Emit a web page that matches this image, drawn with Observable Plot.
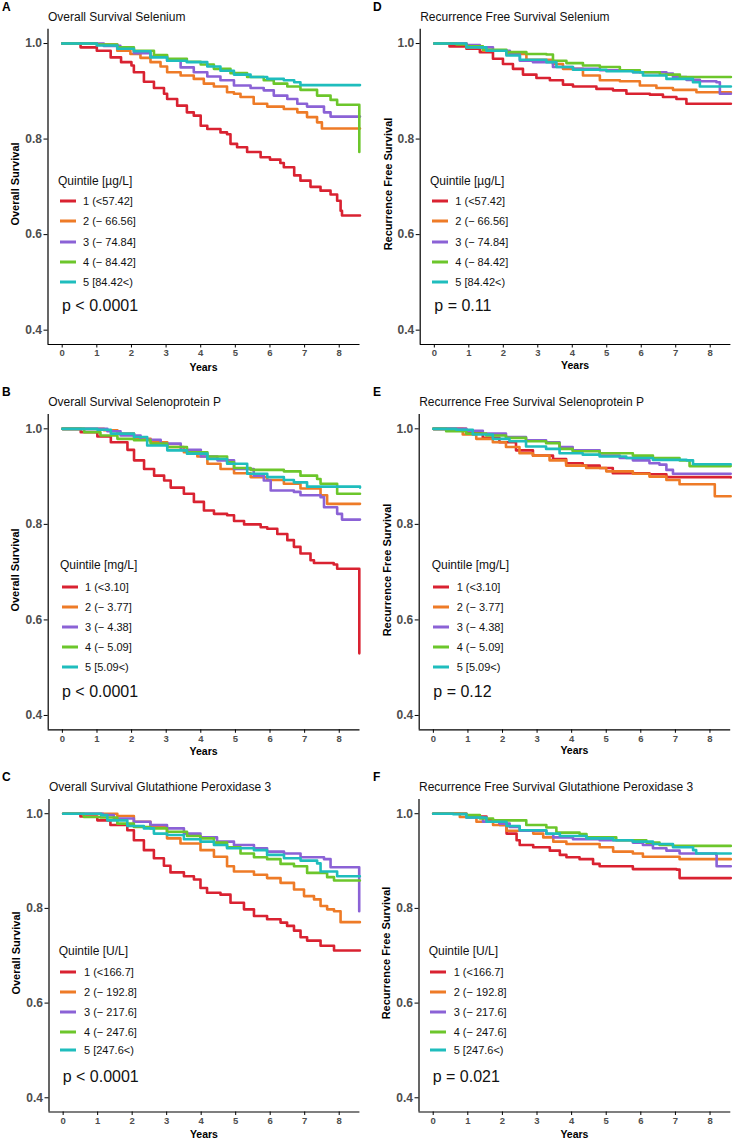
<!DOCTYPE html>
<html><head><meta charset="utf-8">
<script src="https://cdn.jsdelivr.net/npm/d3@7"></script>
<script src="https://cdn.jsdelivr.net/npm/@observablehq/plot@0.6"></script>
<style>
body{margin:0;background:#fff;font-family:"Liberation Sans",Arial,sans-serif;}
#root{position:relative;width:733px;height:1139px;overflow:hidden;background:#fff;}
.abs{position:absolute;transform:translateY(-50%);line-height:1;white-space:nowrap;color:#111;}
.letter{font-weight:bold;font-size:12px;color:#000;}
.title{font-size:12px;}
.ltitle{font-size:12px;}
.lentry{font-size:11px;}
.pval{font-size:16px;}
.ytitle{position:absolute;transform:translate(-50%,-50%) rotate(-90deg);font-weight:bold;font-size:11px;white-space:nowrap;line-height:1;color:#000;}
.years{position:absolute;transform:translate(-50%,-50%);font-weight:bold;font-size:10.5px;white-space:nowrap;line-height:1;color:#000;}
.sw{position:absolute;height:3px;width:16px;transform:translateY(-50%);}
</style></head><body><div id="root"></div>
<script>
// ---------- scales / ticks ----------
const xDomain = [-0.41, 8.6];
const yDomain = [0.37, 1.03];
const xTicks = [0, 1, 2, 3, 4, 5, 6, 7, 8];
const yTicks = [0.4, 0.6, 0.8, 1.0];
const quintiles = ["1", "2", "3", "4", "5"];
const colors = ["#D92231", "#EE7B27", "#8B62D6", "#6CC62B", "#1FBDBD"];

// ---------- legend labels ----------
const seUnit = "Quintile [µg/L]";
const seLabels = ["1 (<57.42]", "2 (− 66.56]", "3 (− 74.84]", "4 (− 84.42]", "5 [84.42<)"];
const seppUnit = "Quintile [mg/L]";
const seppLabels = ["1 (<3.10]", "2 (− 3.77]", "3 (− 4.38]", "4 (− 5.09]", "5 [5.09<)"];
const gpxUnit = "Quintile [U/L]";
const gpxLabels = ["1 (<166.7]", "2 (− 192.8]", "3 (− 217.6]", "4 (− 247.6]", "5 [247.6<)"];

// ---------- A: Overall survival, Selenium ----------
const osSe1 = [[0,1],[0.53,0.992],[1.0,0.985],[1.4,0.971],[1.7,0.961],[2.0,0.954],[2.07,0.94],[2.36,0.92],[2.65,0.907],[2.94,0.895],[3.03,0.884],[3.32,0.87],[3.6,0.856],[3.8,0.849],[4.0,0.828],[4.19,0.821],[4.57,0.814],[4.76,0.81],[4.86,0.79],[5.05,0.783],[5.34,0.773],[5.73,0.762],[6.0,0.757],[6.3,0.75],[6.4,0.741],[6.7,0.724],[6.88,0.713],[7.17,0.70],[7.46,0.692],[7.75,0.684],[7.94,0.671],[8.04,0.65],[8.08,0.64],[8.6,0.64]];
const osSe2 = [[0,1],[1.0,0.998],[1.59,0.985],[1.97,0.978],[2.26,0.97],[2.55,0.961],[2.84,0.952],[3.03,0.94],[3.42,0.933],[3.8,0.926],[4.09,0.916],[4.38,0.91],[4.76,0.898],[4.96,0.895],[5.15,0.888],[5.53,0.874],[5.92,0.868],[6.4,0.863],[6.79,0.856],[7.07,0.846],[7.36,0.835],[7.5,0.822],[8.6,0.822]];
const osSe3 = [[0,1],[1.2,0.995],[1.68,0.989],[2.07,0.98],[2.55,0.973],[3.03,0.964],[3.42,0.95],[3.8,0.94],[4.19,0.931],[4.57,0.923],[4.96,0.912],[5.44,0.907],[5.82,0.902],[6.11,0.891],[6.5,0.884],[6.79,0.874],[7.07,0.868],[7.56,0.856],[7.75,0.847],[8.6,0.847]];
const osSe4 = [[0,1],[1.0,0.998],[1.59,0.992],[2.07,0.985],[2.65,0.976],[3.03,0.968],[3.6,0.962],[4.0,0.956],[4.38,0.947],[4.86,0.938],[5.34,0.93],[5.82,0.923],[6.11,0.916],[6.5,0.91],[6.88,0.903],[7.36,0.891],[7.75,0.882],[7.94,0.872],[8.57,0.872],[8.58,0.773]];
const osSe5 = [[0,1],[1.0,0.996],[1.59,0.989],[2.07,0.984],[2.55,0.971],[3.03,0.964],[3.6,0.961],[4.19,0.952],[4.57,0.943],[4.96,0.935],[5.44,0.93],[5.92,0.926],[6.4,0.923],[6.7,0.919],[6.88,0.913],[8.6,0.913]];

// ---------- D: Recurrence free survival, Selenium ----------
const rfsSe1 = [[0,1],[0.44,0.994],[0.93,0.989],[1.32,0.982],[1.7,0.968],[1.99,0.957],[2.28,0.947],[2.57,0.935],[2.96,0.928],[3.35,0.923],[3.73,0.914],[4.02,0.91],[4.7,0.905],[5.18,0.902],[5.57,0.895],[6.25,0.893],[6.63,0.888],[7.02,0.884],[7.31,0.874],[8.6,0.874]];
const rfsSe2 = [[0,1],[0.93,0.992],[1.41,0.985],[2.09,0.978],[2.67,0.966],[3.44,0.957],[3.73,0.947],[4.31,0.933],[4.8,0.923],[5.38,0.921],[5.96,0.912],[6.44,0.907],[6.92,0.903],[7.6,0.898],[8.6,0.898]];
const rfsSe3 = [[0,1],[0.93,0.997],[1.32,0.992],[1.7,0.985],[2.19,0.978],[2.48,0.964],[2.86,0.961],[3.44,0.951],[4.02,0.947],[4.8,0.944],[5.76,0.94],[6.73,0.937],[6.92,0.93],[7.31,0.924],[7.7,0.921],[8.18,0.919],[8.28,0.895],[8.6,0.895]];
const rfsSe4 = [[0,1],[0.64,0.998],[0.93,0.994],[1.41,0.987],[2.09,0.982],[2.67,0.978],[3.25,0.977],[3.44,0.964],[3.83,0.959],[4.31,0.954],[4.8,0.951],[5.38,0.944],[5.96,0.94],[6.54,0.935],[7.12,0.93],[8.6,0.93]];
const rfsSe5 = [[0,1],[0.93,0.992],[1.51,0.985],[2.09,0.975],[2.48,0.966],[3.25,0.961],[3.54,0.951],[4.02,0.945],[4.99,0.942],[5.76,0.94],[6.05,0.933],[6.73,0.926],[7.5,0.919],[7.7,0.91],[8.6,0.91]];

// ---------- B: Overall survival, Selenoprotein P ----------
const osSepp1 = [[0,1],[0.53,0.993],[1.01,0.984],[1.4,0.972],[1.88,0.956],[2.07,0.934],[2.36,0.916],[2.65,0.902],[2.94,0.892],[3.13,0.877],[3.51,0.864],[3.8,0.847],[4.09,0.829],[4.38,0.822],[4.76,0.819],[4.96,0.807],[5.25,0.8],[5.73,0.794],[5.92,0.791],[6.21,0.78],[6.5,0.767],[6.69,0.753],[6.88,0.739],[7.17,0.725],[7.27,0.719],[7.84,0.716],[7.94,0.707],[8.57,0.707],[8.58,0.53]];
const osSepp2 = [[0,1],[1.2,0.997],[1.59,0.99],[2.07,0.979],[2.55,0.972],[3.03,0.962],[3.51,0.951],[3.9,0.942],[4.19,0.927],[4.57,0.916],[4.96,0.907],[5.44,0.899],[5.92,0.893],[6.4,0.885],[6.88,0.875],[7.46,0.861],[7.65,0.843],[8.6,0.843]];
const osSepp3 = [[0,1],[1.3,0.995],[1.68,0.986],[2.26,0.977],[2.84,0.969],[3.42,0.956],[4.0,0.942],[4.48,0.934],[4.96,0.916],[5.53,0.902],[5.82,0.892],[6.02,0.871],[6.69,0.868],[6.88,0.861],[7.46,0.857],[7.56,0.836],[7.94,0.822],[8.08,0.81],[8.6,0.81]];
const osSepp4 = [[0,1],[0.63,0.993],[1.1,0.986],[1.59,0.979],[2.07,0.976],[2.55,0.969],[3.03,0.962],[3.6,0.951],[4.19,0.942],[4.76,0.93],[4.96,0.918],[5.44,0.914],[6.4,0.911],[6.88,0.902],[7.36,0.895],[7.46,0.885],[7.94,0.864],[8.6,0.864]];
const osSepp5 = [[0,1],[1.01,0.998],[1.4,0.99],[2.07,0.983],[2.45,0.965],[3.03,0.955],[3.6,0.948],[4.19,0.937],[4.76,0.927],[5.34,0.906],[5.92,0.899],[6.4,0.893],[6.69,0.888],[7.07,0.879],[8.6,0.877]];

// ---------- E: Recurrence free survival, Selenoprotein P ----------
const rfsSepp1 = [[0,1],[0.95,0.991],[1.43,0.981],[1.91,0.972],[2.39,0.955],[2.88,0.944],[3.46,0.937],[3.84,0.928],[4.32,0.923],[4.81,0.918],[5.19,0.907],[6.25,0.905],[6.74,0.899],[8.6,0.898]];
const rfsSepp2 = [[0,1],[0.85,0.988],[1.24,0.979],[1.72,0.972],[2.1,0.962],[2.49,0.949],[2.88,0.944],[3.36,0.934],[3.84,0.923],[4.42,0.918],[5.0,0.911],[5.77,0.906],[6.25,0.9],[6.74,0.893],[7.12,0.884],[8.14,0.859],[8.6,0.859]];
const rfsSepp3 = [[0,1],[0.95,0.996],[1.43,0.99],[2.1,0.983],[2.68,0.976],[3.26,0.972],[3.65,0.962],[4.03,0.955],[4.81,0.944],[5.39,0.939],[5.77,0.934],[6.25,0.928],[6.54,0.925],[6.74,0.914],[6.93,0.906],[8.6,0.906]];
const rfsSepp4 = [[0,1],[0.37,0.995],[0.95,0.99],[1.53,0.986],[2.1,0.981],[2.68,0.974],[3.26,0.97],[3.65,0.958],[4.03,0.953],[4.81,0.949],[5.77,0.944],[6.35,0.939],[7.12,0.934],[7.41,0.922],[8.6,0.922]];
const rfsSepp5 = [[0,1],[0.66,0.998],[1.14,0.988],[1.72,0.979],[2.2,0.974],[2.68,0.963],[3.26,0.958],[3.65,0.949],[4.32,0.946],[4.81,0.942],[5.58,0.939],[6.35,0.935],[7.32,0.934],[7.51,0.926],[8.6,0.926]];

// ---------- C: Overall survival, Glutathione Peroxidase 3 ----------
const osGpx1 = [[0,1],[0.5,0.994],[0.99,0.986],[1.37,0.976],[1.86,0.965],[2.05,0.944],[2.34,0.923],[2.63,0.906],[2.92,0.89],[3.11,0.876],[3.5,0.868],[3.79,0.861],[3.98,0.843],[4.17,0.833],[4.56,0.829],[4.85,0.812],[5.24,0.798],[5.53,0.784],[5.91,0.777],[6.3,0.77],[6.49,0.763],[6.69,0.753],[6.88,0.739],[7.07,0.732],[7.46,0.721],[7.85,0.711],[8.6,0.711]];
const osGpx2 = [[0,1],[1.57,0.995],[2.05,0.983],[2.53,0.972],[3.01,0.948],[3.4,0.937],[3.98,0.923],[4.37,0.909],[4.75,0.889],[4.95,0.878],[5.53,0.871],[5.91,0.864],[6.3,0.854],[6.69,0.84],[6.98,0.826],[7.27,0.819],[7.46,0.805],[7.65,0.798],[7.85,0.794],[8.04,0.771],[8.6,0.771]];
const osGpx3 = [[0,1],[1.15,0.997],[1.47,0.99],[2.05,0.983],[2.53,0.976],[3.01,0.969],[3.5,0.958],[3.98,0.95],[4.46,0.941],[4.95,0.934],[5.53,0.927],[5.91,0.92],[6.4,0.916],[6.88,0.908],[7.56,0.904],[7.75,0.887],[8.57,0.887],[8.58,0.794]];
const osGpx4 = [[0,1],[0.6,0.993],[1.08,0.992],[1.57,0.979],[2.05,0.972],[2.53,0.969],[3.01,0.962],[3.59,0.953],[3.98,0.948],[4.37,0.939],[4.75,0.929],[5.14,0.916],[5.53,0.908],[5.91,0.904],[6.3,0.894],[6.69,0.889],[7.07,0.875],[7.65,0.866],[7.85,0.859],[8.6,0.859]];
const osGpx5 = [[0,1],[1.1,0.997],[1.28,0.986],[1.86,0.974],[2.34,0.969],[2.63,0.958],[3.01,0.955],[3.5,0.946],[3.98,0.941],[4.37,0.934],[4.75,0.927],[5.53,0.923],[5.91,0.913],[6.4,0.906],[6.88,0.901],[7.36,0.895],[7.46,0.878],[7.94,0.868],[8.6,0.868]];

// ---------- F: Recurrence free survival, Glutathione Peroxidase 3 ----------
const rfsGpx1 = [[0,1],[0.96,0.994],[1.54,0.986],[1.92,0.976],[2.12,0.958],[2.41,0.944],[2.5,0.934],[2.89,0.929],[3.37,0.922],[3.66,0.913],[3.85,0.908],[4.23,0.904],[4.62,0.894],[4.81,0.889],[5.77,0.883],[7.03,0.882],[7.12,0.864],[8.6,0.864]];
const rfsGpx2 = [[0,1],[0.77,0.993],[1.25,0.983],[1.73,0.976],[2.12,0.964],[2.89,0.958],[3.18,0.95],[3.47,0.941],[3.85,0.936],[4.81,0.929],[5.2,0.92],[5.77,0.916],[6.06,0.909],[7.12,0.904],[8.6,0.904]];
const rfsGpx3 = [[0,1],[0.96,0.992],[1.44,0.983],[1.92,0.979],[2.21,0.972],[2.5,0.964],[3.27,0.957],[3.47,0.95],[4.04,0.946],[4.81,0.944],[5.77,0.939],[6.06,0.934],[6.35,0.927],[6.74,0.922],[7.12,0.916],[8.18,0.913],[8.19,0.889],[8.6,0.889]];
const rfsGpx4 = [[0,1],[0.96,0.997],[1.35,0.99],[1.73,0.986],[2.69,0.976],[3.27,0.971],[3.56,0.96],[4.23,0.957],[4.43,0.95],[5.29,0.944],[6.16,0.939],[6.54,0.934],[6.93,0.932],[8.6,0.932]];
const rfsGpx5 = [[0,1],[0.58,0.999],[0.96,0.992],[1.54,0.983],[2.12,0.974],[2.5,0.965],[3.27,0.958],[3.66,0.953],[4.43,0.948],[5.2,0.944],[5.77,0.941],[6.35,0.936],[6.93,0.929],[7.51,0.923],[7.6,0.916],[8.6,0.916]];

// ---------- panels (layout) ----------
const panels = [
  {letter:"A", title:"Overall Survival Selenium", ylab:"Overall Survival", unit:seUnit, labels:seLabels, p:"p < 0.0001",
   series:[osSe1,osSe2,osSe3,osSe4,osSe5], col:0, rowTop:0, h:380, ox:47.5, right:359.5, top:28.7, bottom:344,
   letterY:7, titleY:17, ytX:15, yearsY:366.5, legTitle:[58,181], sw:[60,83], ent:[201,221.3,241.7,262,282], pPos:[62,306]},
  {letter:"D", title:"Recurrence Free Survival Selenium", ylab:"Recurrence Free Survival", unit:seUnit, labels:seLabels, p:"p = 0.11",
   series:[rfsSe1,rfsSe2,rfsSe3,rfsSe4,rfsSe5], col:1, rowTop:0, h:380, ox:419.7, right:730.4, top:28.7, bottom:344,
   letterY:7, titleY:17, ytX:387.7, yearsY:365, legTitle:[430,181], sw:[431.7,455.3], ent:[201,221.3,241.7,262,282], pPos:[434.3,306]},
  {letter:"B", title:"Overall Survival Selenoprotein P", ylab:"Overall Survival", unit:seppUnit, labels:seppLabels, p:"p < 0.0001",
   series:[osSepp1,osSepp2,osSepp3,osSepp4,osSepp5], col:0, rowTop:380, h:380, ox:47.7, right:359.5, top:414, bottom:729.3,
   letterY:392, titleY:401.7, ytX:15, yearsY:751, legTitle:[60,565], sw:[62,85], ent:[586.7,606.7,627,647,667.3], pPos:[62,691.7]},
  {letter:"E", title:"Recurrence Free Survival Selenoprotein P", ylab:"Recurrence Free Survival", unit:seppUnit, labels:seppLabels, p:"p = 0.12",
   series:[rfsSepp1,rfsSepp2,rfsSepp3,rfsSepp4,rfsSepp5], col:1, rowTop:380, h:380, ox:418.7, right:730.2, top:414, bottom:729.3,
   letterY:392, titleY:401.7, ytX:386.7, yearsY:750, legTitle:[431.7,565], sw:[433.3,456.7], ent:[586.7,606.7,627,647,667.3], pPos:[433.3,691.7]},
  {letter:"C", title:"Overall Survival Glutathione Peroxidase 3", ylab:"Overall Survival", unit:gpxUnit, labels:gpxLabels, p:"p < 0.0001",
   series:[osGpx1,osGpx2,osGpx3,osGpx4,osGpx5], col:0, rowTop:760, h:379, ox:48.5, right:359.4, top:799, bottom:1111.5,
   letterY:777.3, titleY:786.7, ytX:15.7, yearsY:1133.5, legTitle:[58.7,950.7], sw:[60,84], ent:[972,992,1012.3,1032.3,1050], pPos:[62.7,1076.7]},
  {letter:"F", title:"Recurrence Free Survival Glutathione Peroxidase 3", ylab:"Recurrence Free Survival", unit:gpxUnit, labels:gpxLabels, p:"p = 0.021",
   series:[rfsGpx1,rfsGpx2,rfsGpx3,rfsGpx4,rfsGpx5], col:1, rowTop:760, h:379, ox:418.5, right:730.3, top:799, bottom:1111.5,
   letterY:777.3, titleY:786.7, ytX:386, yearsY:1133.5, legTitle:[428.7,950.7], sw:[430,453.7], ent:[972,992,1012.3,1032.3,1050], pPos:[432.7,1076.7]}
];

const root = document.getElementById("root");
function addDiv(text, cls, x, y) {
  const d = document.createElement("div");
  d.className = cls;
  d.textContent = text;
  d.style.left = x + "px";
  d.style.top = y + "px";
  root.appendChild(d);
  return d;
}

for (const p of panels) {
  const svgLeft = p.col * 366;
  const w = p.col ? 367 : 366;
  const data = p.series.flatMap((arr, i) => arr.map(([t, s]) => ({t, s, q: quintiles[i]})));
  const chart = Plot.plot({
    width: w,
    height: p.h,
    marginLeft: p.ox - svgLeft,
    marginRight: svgLeft + w - p.right,
    marginTop: p.top - p.rowTop,
    marginBottom: p.rowTop + p.h - p.bottom,
    x: {domain: xDomain},
    y: {domain: yDomain},
    color: {domain: quintiles, range: colors},
    style: {fontFamily: "'Liberation Sans', Arial, sans-serif", background: "transparent", overflow: "visible"},
    marks: [
      Plot.axisX({ticks: xTicks, tickSize: 3.5, tickPadding: 1.5, label: null}),
      Plot.axisY({ticks: yTicks, tickSize: 4, tickPadding: 2, tickFormat: d3.format(".1f"), label: null}),
      Plot.line(data, {x: "t", y: "s", z: "q", stroke: "q", curve: "step-after", strokeWidth: 2.6}),
      Plot.ruleX([xDomain[0]], {stroke: "#000", strokeWidth: 1.2}),
      Plot.ruleY([yDomain[0]], {stroke: "#000", strokeWidth: 1.2})
    ]
  });
  chart.style.position = "absolute";
  chart.style.left = svgLeft + "px";
  chart.style.top = p.rowTop + "px";
  root.appendChild(chart);
  const sel = d3.select(chart);
  sel.selectAll('g[aria-label="y-axis tick label"]').style("font-size", "12px").style("font-weight", "bold").style("fill", "#4d4d4d");
  sel.selectAll('g[aria-label="x-axis tick label"]').style("font-size", "9.5px").style("font-weight", "bold").style("fill", "#4d4d4d");

  // texts
  addDiv(p.letter, "abs letter", svgLeft + (p.col ? 7 : 2), p.letterY);
  addDiv(p.title, "abs title", p.ox + 0.5, p.titleY);
  addDiv(p.ylab, "ytitle", p.ytX, (p.top + p.bottom) / 2 - 2);
  addDiv("Years", "years", (p.ox + p.right) / 2, p.yearsY);
  addDiv(p.unit, "abs ltitle", p.legTitle[0], p.legTitle[1]);
  p.labels.forEach((lab, i) => {
    const s = document.createElement("div");
    s.className = "sw";
    s.style.left = p.sw[0] + "px";
    s.style.top = p.ent[i] + "px";
    s.style.background = colors[i];
    root.appendChild(s);
    addDiv(lab, "abs lentry", p.sw[1], p.ent[i]);
  });
  addDiv(p.p, "abs pval", p.pPos[0], p.pPos[1]);
}
</script>
</body></html>
